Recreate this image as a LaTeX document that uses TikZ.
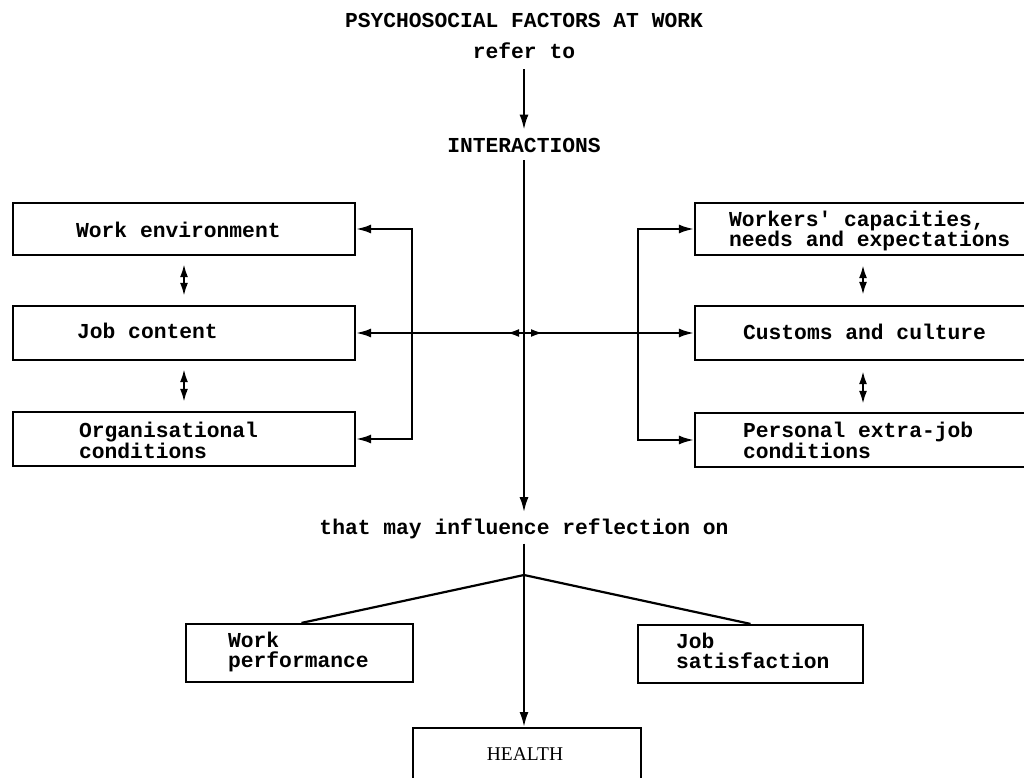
\documentclass[tikz,border=0pt]{standalone}
\usepackage{fontspec}
\newfontfamily\typewriter{Liberation Mono}
\newfontfamily\healthfont{Liberation Serif}
\usetikzlibrary{arrows.meta}
\begin{document}
\begin{tikzpicture}[x=1pt,y=-1pt,
  line width=2.2pt,
  tw/.style={font=\typewriter\bfseries\fontsize{21.3}{19.5}\selectfont, inner sep=0pt},
  lbl/.style={tw, anchor=base},
  multi/.style={tw, anchor=west, align=left},
  box/.style={draw, line width=2.2pt, inner sep=0pt},
  arr/.style={-{Latex[length=15pt,width=9pt]}},
  smallarr/.style={-{Latex[length=12pt,width=8pt]}},
  darr/.style={{Latex[length=13pt,width=8pt]}-{Latex[length=13pt,width=8pt]}},
]
\useasboundingbox (0,0) rectangle (1024,778);
\clip (0,0) rectangle (1024,778);

% boxes
\node[box, minimum width=342pt, minimum height=52pt] (we) at (184,229) {};
\node[box, minimum width=342pt, minimum height=54pt] (jc) at (184,333) {};
\node[box, minimum width=342pt, minimum height=54pt] (oc) at (184,439) {};
\node[box, minimum width=336pt, minimum height=52pt] (wc) at (863,229) {};
\node[box, minimum width=336pt, minimum height=54pt] (cc) at (863,333) {};
\node[box, minimum width=336pt, minimum height=54pt] (pe) at (863,440) {};
\node[box, minimum width=227pt, minimum height=58pt] (wp) at (299.5,653) {};
\node[box, minimum width=225pt, minimum height=58pt] (js) at (750.5,654) {};
\node[box, minimum width=228pt, minimum height=110pt, anchor=north] (hl) at (527,727) {};

% texts
\node[lbl] (title) at (524,28) {PSYCHOSOCIAL FACTORS AT WORK};
\node[lbl] (refer) at (524,59) {refer to};
\node[lbl] (inter) at (524,153) {INTERACTIONS};
\node[lbl] (infl) at (524,534) {that may influence reflection on};
\node[lbl, anchor=base west] (twe) at (75,237) {Work environment};
\node[lbl, anchor=base west] (tjc) at (76,338) {Job content};
\node[multi] (toc) at (78,440) {Organisational\\conditions};
\node[multi] (twc) at (728,231) {Workers\char"27{} capacities,\\needs and expectations};
\node[lbl, anchor=base west] (tcc) at (742,339) {Customs and culture};
\node[multi] (tpe) at (742,440) {Personal extra-job\\conditions};
\node[multi] (twp) at (227,652) {Work\\performance};
\node[multi] (tjs) at (675,651) {Job\\satisfaction};
\node[font=\healthfont\fontsize{19.5}{22}\selectfont, anchor=base, inner sep=0pt] (thl) at (525,760) {HEALTH};

% main vertical flow
\coordinate (x) at (524,333);
\coordinate (j) at (524,575);
\draw[arr] ([yshift=-9pt]refer.south) -- ([yshift=8pt]inter.north);
\draw[arr] ([yshift=-6pt]inter.south) -- ([yshift=5pt]infl.north);
\draw ([yshift=-4pt]infl.south) -- (j);
\draw (j) -- ([xshift=2pt]wp.north);
\draw (j) -- (js.north);
\draw[arr] (j) -- (j |- hl.north);

% horizontal interaction line
\draw[arr] (x) -- (jc.east);
\draw[arr] (x) -- (cc.west);
\draw[smallarr] (x) -- ++(-17,0);
\draw[smallarr] (x) -- ++(19,0);

% brackets
\coordinate (lt) at (412,229);
\coordinate (lb) at (412,439);
\coordinate (rt) at (638,229);
\coordinate (rb) at (638,440);
\draw[arr] (lb) -- (lt) -- (we.east);
\draw[arr] (lt) -- (lb) -- (oc.east);
\draw[arr] (rb) -- (rt) -- (wc.west);
\draw[arr] (rt) -- (rb) -- (pe.west);

% links between neighbouring boxes
\draw[darr] ([yshift=-8pt]we.south) -- ([yshift=9pt]jc.north);
\draw[darr] ([yshift=-8pt]jc.south) -- ([yshift=9pt]oc.north);
\draw[darr] ([yshift=-9pt]wc.south) -- ([yshift=10pt]cc.north);
\draw[darr] ([yshift=-10pt]cc.south) -- ([yshift=8pt]pe.north);
\end{tikzpicture}
\end{document}
